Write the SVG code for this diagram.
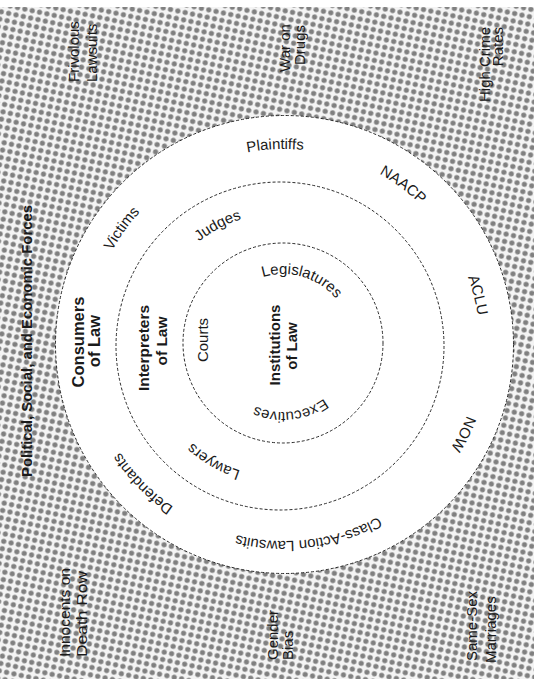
<svg xmlns="http://www.w3.org/2000/svg" width="534" height="686" viewBox="0 0 534 686">
<style>
.t{font-family:"Liberation Sans",Arial,sans-serif;font-size:15px;fill:#1a1a1a}
.b{font-weight:bold}
.ring{fill:none;stroke:#2a2a2a;stroke-width:1;stroke-dasharray:3 2}
</style>
<defs>
<pattern id="ht" width="7.5" height="7.5" patternUnits="userSpaceOnUse" patternTransform="rotate(12)">
<rect width="7.5" height="7.5" fill="#f4f4f4"/>
<circle cx="3.75" cy="3.75" r="2.6" fill="#808080"/>
</pattern>
<path id="pOuter" d="M88,345 A196,196 0 1 1 480,345 A196,196 0 1 1 88,345"/>
<path id="pMid" d="M149,345 A132,132 0 1 1 413,345 A132,132 0 1 1 149,345"/>
<path id="pIn" d="M214,343 A69,69 0 1 1 352,343 A69,69 0 1 1 214,343"/>
</defs>
<rect width="534" height="686" fill="#fff"/>
<g id="background">
<rect x="0" y="7" width="534" height="672" fill="url(#ht)"/>
</g>
<g id="connectors">
<circle class="ring" cx="284.5" cy="344.5" r="229" style="fill:#fff"/>
<circle class="ring" cx="280" cy="346" r="164"/>
<circle class="ring" cx="283" cy="343" r="100"/>
</g>
<g id="forces">
<text class="t b" transform="translate(32,341) rotate(-90)" text-anchor="middle" textLength="272" lengthAdjust="spacingAndGlyphs">Political, Social, and Economic Forces</text>
</g>
<g id="frivolous-lawsuits">
<text class="t" transform="translate(79,82) rotate(-90)">Frivolous</text>
<text class="t" transform="translate(97,82) rotate(-90)">Lawsuits</text>
</g>
<g id="war-on-drugs">
<text class="t" transform="translate(290,48) rotate(-90)" text-anchor="middle">War on</text>
<text class="t" transform="translate(305,45) rotate(-90)" text-anchor="middle">Drugs</text>
</g>
<g id="high-crime-rates">
<text class="t" transform="translate(490,27) rotate(-90)" text-anchor="end">High Crime</text>
<text class="t" transform="translate(503,27) rotate(-90)" text-anchor="end">Rates</text>
</g>
<g id="innocents">
<text class="t" transform="translate(70,657) rotate(-90)" textLength="89" lengthAdjust="spacingAndGlyphs">Innocents on</text>
<text class="t" transform="translate(87,657) rotate(-90)" textLength="86" lengthAdjust="spacingAndGlyphs">Death Row</text>
</g>
<g id="gender-bias">
<text class="t" transform="translate(278,660) rotate(-90)">Gender</text>
<text class="t" transform="translate(293,660) rotate(-90)">Bias</text>
</g>
<g id="same-sex">
<text class="t" transform="translate(477,661) rotate(-90)">Same-Sex</text>
<text class="t" transform="translate(496,663) rotate(-90)">Marriages</text>
</g>
<g id="consumers">
<text class="t b" style="font-size:16.5px" transform="translate(84,342) rotate(-90)" text-anchor="middle">Consumers</text>
<text class="t b" style="font-size:16.5px" transform="translate(100,341) rotate(-90)" text-anchor="middle">of Law</text>
</g>
<g id="interpreters">
<text class="t b" style="font-size:15.5px" transform="translate(149,348) rotate(-90)" text-anchor="middle">Interpreters</text>
<text class="t b" style="font-size:15.5px" transform="translate(167,341) rotate(-90)" text-anchor="middle">of Law</text>
</g>
<g id="institutions">
<text class="t b" transform="translate(280,345) rotate(-90)" text-anchor="middle">Institutions</text>
<text class="t b" transform="translate(297,346) rotate(-90)" text-anchor="middle">of Law</text>
</g>
<g id="courts">
<text class="t" transform="translate(208,340) rotate(-90)" text-anchor="middle">Courts</text>
</g>
<g id="outer-ring-labels">
<text class="t" text-anchor="middle"><textPath href="#pOuter" startOffset="299">Plaintiffs</textPath></text>
<text class="t" text-anchor="middle"><textPath href="#pOuter" startOffset="433">NAACP</textPath></text>
<text class="t" text-anchor="middle"><textPath href="#pOuter" startOffset="566">ACLU</textPath></text>
<text class="t" text-anchor="middle"><textPath href="#pOuter" startOffset="706">NOW</textPath></text>
<text class="t" text-anchor="middle"><textPath href="#pOuter" startOffset="898">Class-Action Lawsuits</textPath></text>
<text class="t" text-anchor="middle"><textPath href="#pOuter" startOffset="1079">Defendants</textPath></text>
<text class="t" text-anchor="middle"><textPath href="#pOuter" startOffset="122">Victims</textPath></text>
</g>
<g id="middle-ring-labels">
<text class="t" text-anchor="middle"><textPath href="#pMid" startOffset="143">Judges</textPath></text>
<text class="t" text-anchor="middle"><textPath href="#pMid" startOffset="691">Lawyers</textPath></text>
</g>
<g id="inner-ring-labels">
<text class="t" text-anchor="middle"><textPath href="#pIn" startOffset="128">Legislatures</textPath></text>
<text class="t" text-anchor="middle"><textPath href="#pIn" startOffset="317">Executives</textPath></text>
</g>
</svg>
